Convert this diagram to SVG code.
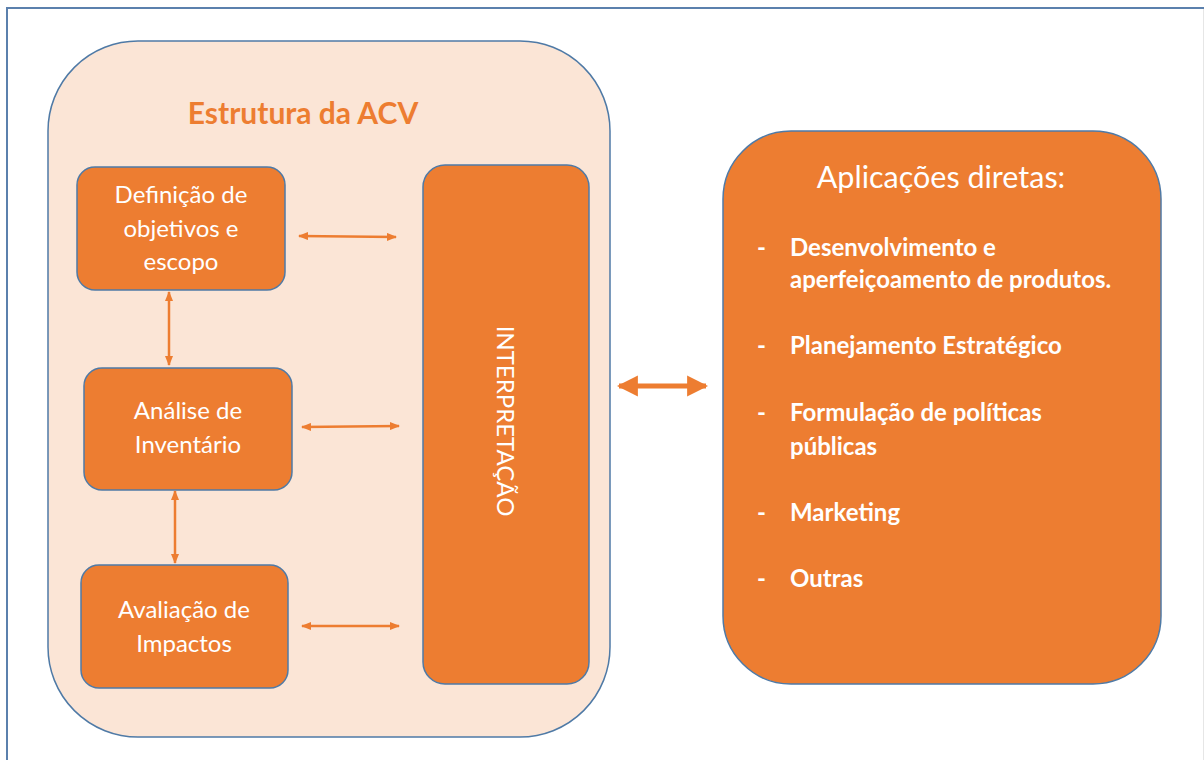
<svg xmlns="http://www.w3.org/2000/svg" width="1204" height="760" viewBox="0 0 1204 760">
  <defs>
    <style>
      .shape { stroke: #4f7aa6; stroke-width: 1.5; }
      .orange { fill: #ed7d31; }
      .peach { fill: #fbe5d6; }
      .conn { stroke: #ed7d31; stroke-width: 2.5; fill: none; }
      .big { stroke: #ed7d31; stroke-width: 5; fill: none; }
      .wt { fill: #ffffff; font-family: Lato, "Liberation Sans", sans-serif; }
      .box { font-size: 24px; text-anchor: middle; }
      .item { font-size: 24px; font-weight: bold; }
    </style>
    <marker id="ah" viewBox="0 0 10 8" refX="9" refY="4" markerWidth="4" markerHeight="3.2" orient="auto-start-reverse" markerUnits="strokeWidth">
      <path d="M0,0 L10,4 L0,8 Z" fill="#ed7d31"/>
    </marker>
    <marker id="ahb" viewBox="0 0 10 10" refX="9" refY="5" markerWidth="4.2" markerHeight="4.4" orient="auto-start-reverse" markerUnits="strokeWidth">
      <path d="M0,0 L10,5 L0,10 Z" fill="#ed7d31"/>
    </marker>
  </defs>

  <rect x="0" y="0" width="1204" height="760" fill="#ffffff"/>
  <path d="M7,760 L7,8 L1204,8" fill="none" stroke="#5b80ad" stroke-width="2"/>
  <line x1="1203.5" y1="9" x2="1203.5" y2="760" stroke="#e6e6e6" stroke-width="1"/>

  <g id="container">
    <rect class="shape peach" x="48" y="41" width="562" height="696" rx="90" ry="90"/>
    <text x="303" y="124" font-family="Lato, 'Liberation Sans', sans-serif" font-size="30" font-weight="bold" fill="#ed7d31" text-anchor="middle">Estrutura da ACV</text>
  </g>

  <g id="definicao">
    <rect class="shape orange" x="77" y="167" width="208" height="123" rx="18" ry="18"/>
    <text class="wt box" x="181" y="203">Definição de</text>
    <text class="wt box" x="181" y="237">objetivos e</text>
    <text class="wt box" x="181" y="270">escopo</text>
  </g>

  <g id="analise">
    <rect class="shape orange" x="84" y="368" width="208" height="122" rx="18" ry="18"/>
    <text class="wt box" x="188" y="419">Análise de</text>
    <text class="wt box" x="188" y="453">Inventário</text>
  </g>

  <g id="avaliacao">
    <rect class="shape orange" x="81" y="565" width="207" height="123" rx="18" ry="18"/>
    <text class="wt box" x="184" y="618">Avaliação de</text>
    <text class="wt box" x="184" y="652">Impactos</text>
  </g>

  <g id="interpretacao">
    <rect class="shape orange" x="423" y="165" width="166" height="519" rx="22" ry="22"/>
    <text class="wt" x="0" y="0" font-size="24" text-anchor="middle" transform="translate(497,421) rotate(90)">INTERPRETAÇÃO</text>
  </g>

  <g id="aplicacoes">
    <rect class="shape orange" x="723" y="131" width="438" height="553" rx="68" ry="68"/>
    <text class="wt" x="941" y="188" font-size="30.5" text-anchor="middle">Aplicações diretas:</text>
    <g class="wt item">
      <text x="757" y="256">-</text>
      <text x="790" y="256">Desenvolvimento e</text>
      <text x="790" y="288">aperfeiçoamento de produtos.</text>
      <text x="757" y="354">-</text>
      <text x="790" y="354">Planejamento Estratégico</text>
      <text x="757" y="421">-</text>
      <text x="790" y="421">Formulação de políticas</text>
      <text x="790" y="455">públicas</text>
      <text x="757" y="521">-</text>
      <text x="790" y="521">Marketing</text>
      <text x="757" y="587">-</text>
      <text x="790" y="587">Outras</text>
    </g>
  </g>

  <g id="connectors">
    <line class="conn" x1="299" y1="236" x2="396" y2="237" marker-start="url(#ah)" marker-end="url(#ah)"/>
    <line class="conn" x1="302" y1="427" x2="399" y2="426" marker-start="url(#ah)" marker-end="url(#ah)"/>
    <line class="conn" x1="302" y1="626" x2="399" y2="626" marker-start="url(#ah)" marker-end="url(#ah)"/>
    <line class="conn" x1="169" y1="292" x2="169" y2="365" marker-start="url(#ah)" marker-end="url(#ah)"/>
    <line class="conn" x1="175" y1="491" x2="175" y2="563" marker-start="url(#ah)" marker-end="url(#ah)"/>
    <line class="big" x1="619" y1="386" x2="706" y2="386" marker-start="url(#ahb)" marker-end="url(#ahb)"/>
  </g>
</svg>
